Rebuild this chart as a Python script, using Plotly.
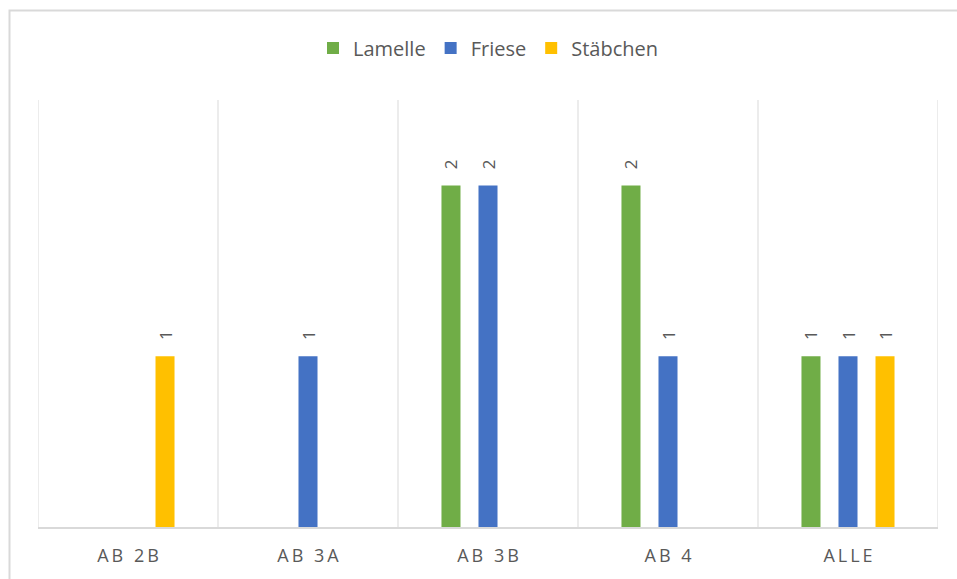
import plotly.graph_objects as go

# Data
categories = ["AB 2B", "AB 3A", "AB 3B", "AB 4", "ALLE"]
lamelle = [None, None, 2, 2, 1]
friese = [None, 1, 2, 1, 1]
staebchen = [1, None, None, None, 1]

series_names = ["Lamelle", "Friese", "Stäbchen"]
series_values = [lamelle, friese, staebchen]
series_colors = ["#70AD47", "#4472C4", "#FFC000"]

FONT = "Open Sans"
GREY_TEXT = "#595959"
GRID = "#d9d9d9"

W, H = 957, 579
M_L, M_R, M_T, M_B = 38, 19, 100, 52
plot_w = W - M_L - M_R
plot_h = H - M_T - M_B


def spaced(label):
    # letter-spaced category labels
    words = ["\u2006".join(list(w)) for w in label.split(" ")]
    return "\u2006 \u2006".join(words)


def pad_label(v):
    if v is None:
        return None
    # rotated label sits a little above the bar end
    return "\u00a0" * 3 + str(v)


fig = go.Figure()
for name, vals, color in zip(series_names, series_values, series_colors):
    fig.add_trace(go.Bar(
        name=name,
        x=categories,
        y=vals,
        marker=dict(color=color, line=dict(width=0)),
        text=[pad_label(v) for v in vals],
        textposition="outside",
        textangle=-90,
        constraintext="none",
        cliponaxis=False,
        textfont=dict(family=FONT, size=17, color=GREY_TEXT),
        hoverinfo="x+y+name",
    ))

# category separators
shapes = []
for i in range(len(categories) + 1):
    shapes.append(dict(
        type="line", xref="x", yref="paper",
        x0=i - 0.5, x1=i - 0.5, y0=0, y1=1,
        line=dict(color=GRID, width=1), layer="below",
    ))

# outer chart frame (left and top edges visible)
fx0 = (9.5 - M_L) / plot_w
fy1 = (H - M_B - 10.5) / plot_h
shapes.append(dict(
    type="rect", xref="paper", yref="paper",
    x0=fx0, x1=1.2, y0=-0.3, y1=fy1,
    line=dict(color=GRID, width=2), fillcolor="rgba(0,0,0,0)", layer="below",
))

fig.update_layout(
    width=W, height=H,
    margin=dict(l=M_L, r=M_R, t=M_T, b=M_B),
    paper_bgcolor="white",
    plot_bgcolor="white",
    barmode="group",
    bargap=0.383,
    bargroupgap=0.486,
    font=dict(family=FONT, color=GREY_TEXT),
    showlegend=True,
    legend=dict(
        orientation="h",
        x=0.5, xanchor="center",
        y=(H - M_B - 48) / plot_h, yanchor="middle",
        font=dict(family=FONT, size=20, color=GREY_TEXT),
        itemwidth=30,
        traceorder="normal",
    ),
    shapes=shapes,
    xaxis=dict(
        type="category",
        tickvals=categories,
        ticktext=[spaced(c) for c in categories],
        tickfont=dict(family=FONT, size=18, color=GREY_TEXT),
        showgrid=False,
        showline=True,
        linecolor=GRID,
        linewidth=1.5,
        ticks="",
        ticklabelstandoff=12,
        range=[-0.5, len(categories) - 0.5],
        zeroline=False,
    ),
    yaxis=dict(
        range=[0, 2.5],
        showgrid=False,
        showticklabels=False,
        showline=False,
        zeroline=False,
        ticks="",
    ),
)

fig.write_html("out.html")
